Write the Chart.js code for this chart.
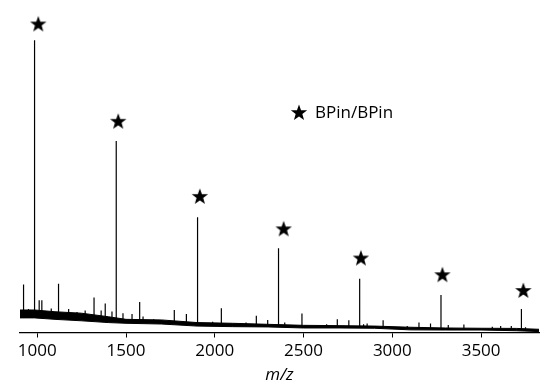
<!DOCTYPE html>
<html>
<head>
<meta charset="utf-8">
<script src="https://cdn.jsdelivr.net/npm/chart.js"></script>
<style>
    html, body { margin: 0; padding: 0; background: #fff; }
</style>
</head>
<body>
<canvas id="spectrum" width="550" height="391"></canvas>
<script>
// Baseline (noise band): m/z, upper and lower edge (intensity, %)
const baseMz = [903, 985, 1100, 1250, 1400, 1500, 1700, 1900, 2100, 2300, 2500, 2700, 2900, 3100, 3300, 3500, 3700, 3826];
const baseHi = [7.7, 7.7, 7.1, 6.6, 5.4, 4.5, 4.3, 3.4, 3.15, 2.8, 2.45, 2.35, 2.2, 1.8, 1.55, 1.45, 1.4, 1.1];
const baseLo = [5.0, 5.0, 4.5, 4.0, 3.4, 3.15, 2.9, 2.2, 2.0, 1.9, 1.55, 1.55, 1.45, 0.9, 0.85, 0.85, 0.6, 0.3];

// BPin/BPin series (starred peaks)
const mainMz = [985, 1445, 1903, 2359, 2816, 3274, 3727];
const mainInt = [100, 65.5, 39.4, 28.8, 18.4, 12.8, 8.0];

// smaller peaks
const minorMz = [923, 951, 1011, 1026, 1079, 1120, 1177, 1224, 1270, 1320, 1360, 1383, 1421, 1483, 1534, 1577, 1596, 1656,
    1772, 1840, 1988, 2037, 2176, 2234, 2298, 2394, 2491, 2630, 2690, 2755, 2838, 2858, 2948, 3084, 3150, 3215,
    3315, 3403, 3563, 3610, 3670, 3750];
const minorInt = [16.4, 8, 11, 11, 8.2, 16.7, 8, 7, 7.5, 12, 7.5, 9.9, 7.2, 6.6, 6.3, 10.4, 5.5, 4.5,
    7.7, 6.3, 3.7, 8.3, 3.4, 5.7, 4.3, 3.4, 6.5, 2.8, 4.5, 4.2, 2.8, 3.1, 4.2, 2.2, 3.4, 3.1,
    2.6, 2.7, 2.0, 2.2, 2.2, 1.8];

// star markers above the starred peaks
const starMz = [1006, 1456, 1916, 2388, 2823, 3282, 3738];
const starLevel = [105.4, 72.1, 46.4, 35.3, 25.3, 19.6, 14.2];

const xTicks = [1000, 1500, 2000, 2500, 3000, 3500];
const legendText = 'BPin/BPin';

const font = "'Open Sans', sans-serif";

// filled five point star used as point style
function makeStar(R, r) {
    const size = Math.ceil(R * 2) + 2;
    const c = document.createElement('canvas');
    c.width = size;
    c.height = size;
    const g = c.getContext('2d');
    g.translate(size / 2, size / 2);
    g.beginPath();
    for (let i = 0; i < 10; i++) {
        const rad = i % 2 === 0 ? R : r;
        const a = -Math.PI / 2 + i * Math.PI / 5;
        g.lineTo(rad * Math.cos(a), rad * Math.sin(a));
    }
    g.closePath();
    g.fillStyle = '#000';
    g.fill();
    return c;
}
const star = makeStar(8.6, 3.5);

// middle of the noise band at a given m/z, used as foot of each stick
function bandMid(m) {
    for (let i = 1; i < baseMz.length; i++) {
        if (m <= baseMz[i]) {
            const t = (m - baseMz[i - 1]) / (baseMz[i] - baseMz[i - 1]);
            const hi = baseHi[i - 1] + t * (baseHi[i] - baseHi[i - 1]);
            const lo = baseLo[i - 1] + t * (baseLo[i] - baseLo[i - 1]);
            return (hi + lo) / 2;
        }
    }
    return baseLo[baseLo.length - 1];
}

const sticks = [];
const allMz = mainMz.concat(minorMz);
const allInt = mainInt.concat(minorInt);
allMz.forEach((m, i) => {
    sticks.push({ x: m, y: bandMid(m) });
    sticks.push({ x: m, y: allInt[i] });
    sticks.push({ x: m, y: null });
});

const legendPlugin = {
    id: 'starLegend',
    afterDraw(chart) {
        const ctx = chart.ctx;
        ctx.save();
        ctx.drawImage(star, 299 - star.width / 2, 113 - star.height / 2);
        ctx.fillStyle = '#000';
        ctx.font = '17px ' + font;
        ctx.textBaseline = 'middle';
        ctx.textAlign = 'left';
        ctx.fillText(legendText, 315, 113);
        ctx.restore();
    }
};

new Chart(document.getElementById('spectrum'), {
    type: 'line',
    data: {
        datasets: [
            {
                data: baseMz.map((m, i) => ({ x: m, y: baseHi[i] })),
                borderColor: '#000',
                borderWidth: 1,
                pointRadius: 0,
                fill: false
            },
            {
                data: baseMz.map((m, i) => ({ x: m, y: baseLo[i] })),
                borderColor: '#000',
                borderWidth: 1,
                backgroundColor: '#000',
                pointRadius: 0,
                fill: '-1'
            },
            {
                data: sticks,
                borderColor: '#000',
                borderWidth: 1.2,
                pointRadius: 0,
                spanGaps: false,
                fill: false
            },
            {
                data: starMz.map((m, i) => ({ x: m, y: starLevel[i] })),
                showLine: false,
                pointStyle: star,
                pointRadius: 5,
                pointHoverRadius: 5
            }
        ]
    },
    options: {
        responsive: false,
        animation: false,
        layout: {
            padding: { left: 20, right: 11, top: 11, bottom: 5.7 }
        },
        plugins: {
            legend: { display: false },
            tooltip: { enabled: false }
        },
        scales: {
            x: {
                type: 'linear',
                min: 903,
                max: 3826,
                afterBuildTicks: (scale) => {
                    scale.ticks = xTicks.map(v => ({ value: v }));
                },
                ticks: {
                    color: '#000',
                    padding: 3,
                    maxRotation: 0,
                    font: { family: font, size: 17 },
                    callback: (v) => String(v)
                },
                grid: {
                    drawOnChartArea: false,
                    drawTicks: true,
                    tickLength: 5,
                    color: '#000'
                },
                border: { display: true, color: '#000', width: 1.3 },
                title: {
                    display: true,
                    text: 'm/z',
                    color: '#000',
                    font: { family: font, size: 17, style: 'italic' },
                    padding: { top: 1, bottom: 0 }
                }
            },
            y: {
                display: false,
                min: 0,
                max: 110
            }
        }
    },
    plugins: [legendPlugin]
});
</script>
</body>
</html>
